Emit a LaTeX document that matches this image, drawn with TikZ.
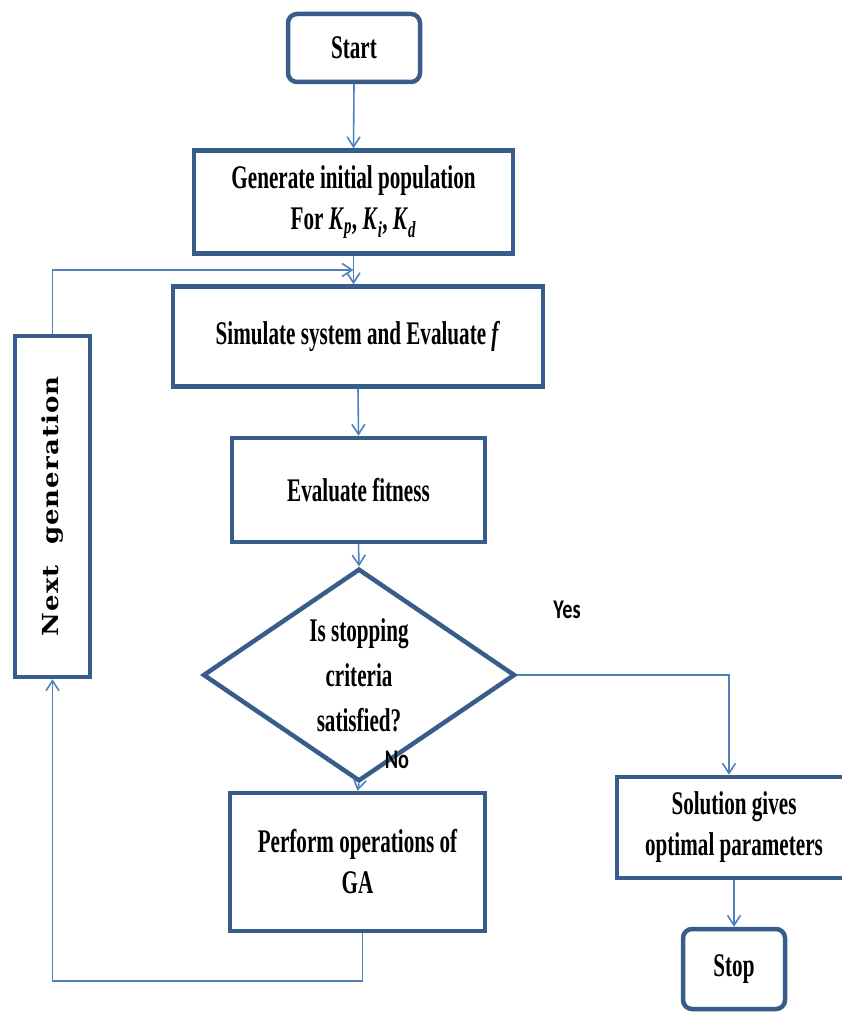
\documentclass[tikz,border=0pt]{standalone}
\usepackage{fontspec}
\setmainfont{Liberation Serif}[FakeStretch=0.64]
\newfontfamily\labelfont{Carlito}[FakeStretch=0.75]
\newfontfamily\genfont{DejaVu Serif}[LetterSpace=4]
\usepackage{tikz}
\usetikzlibrary{arrows.meta, positioning, shapes.geometric}
\usepackage{xcolor}
\definecolor{boxblue}{RGB}{56,93,138}
\definecolor{lineblue}{RGB}{79,129,189}

\newcommand{\gain}[1]{\textit{K}\textsubscript{\textit{#1}}}

\begin{document}
\begin{tikzpicture}[
  x=1pt, y=1pt,
  box/.style={rectangle, draw=boxblue, line width=4.5pt, fill=white,
              inner sep=0pt, align=center,
              font=\bfseries\fontsize{33}{41}\selectfont},
  term/.style={box, rounded corners=9pt},
  decide/.style={diamond, draw=boxblue, line width=4.5pt, fill=white,
                 inner sep=0pt, align=center,
                 minimum width=312, minimum height=170,
                 font=\bfseries\fontsize{33}{45}\selectfont},
  answer/.style={font=\labelfont\bfseries\fontsize{27}{30}\selectfont},
  arr/.style={-{Straight Barb[length=10pt, width=13pt]}, line width=1.6pt, lineblue},
]
  \useasboundingbox (0,0) rectangle (842,-1014);

  \node[term, minimum width=132, minimum height=68] (start) at (354,-48) {Start};
  \node[box, minimum width=319, minimum height=103] (init) at (353.5,-202)
    {Generate initial population\\For \gain{p}, \gain{i}, \gain{d}};
  \node[box, minimum width=370, minimum height=100] (sim) at (358,-336.5)
    {Simulate system and Evaluate \textit{f}};
  \node[box, minimum width=253, minimum height=104] (fit) at (358.5,-490)
    {Evaluate fitness};
  \node[decide] (stopq) at (359,-675)
    {Is stopping\\criteria\\satisfied?};
  \node[box, minimum width=255, minimum height=138] (ops) at (357.5,-862)
    {Perform operations of\\GA};
  \node[box, minimum width=75, minimum height=341] (nextgen) at (52.5,-506.5)
    {\rotatebox{90}{\scalebox{1}[0.85]{\genfont\bfseries\fontsize{26}{30}\selectfont Next\hspace{0.4em} generation}}};
  \node[box, minimum width=234, minimum height=101] (sol) at (734,-827.5)
    {Solution gives\\optimal parameters};
  \node[term, minimum width=102, minimum height=80] (stop) at (734,-969) {Stop};

  \node[answer] (yes) at (567,-610) {Yes};
  \node[answer] (no) at (397,-760) {No};

  \coordinate (join) at (init.south |- 0,-270);

  \draw[arr] (start.south) -- (init.north);
  \draw[arr] (init.south) -- (init.south |- sim.north);
  \draw[arr] (sim.south) -- (fit.north);
  \draw[arr] (fit.south) -- (stopq.north);
  \draw[arr] (stopq.south) -- (ops.north);
  \draw[arr] (stopq.east) -| ([xshift=-5pt]sol.north);
  \draw[arr] (sol.south) -- (stop.north);
  % loop back for the next generation
  \draw[arr] ([xshift=5pt]ops.south) -- ++(0,-48) -| (nextgen.south);
  \draw[arr] (nextgen.north) |- (join);
\end{tikzpicture}
\end{document}
